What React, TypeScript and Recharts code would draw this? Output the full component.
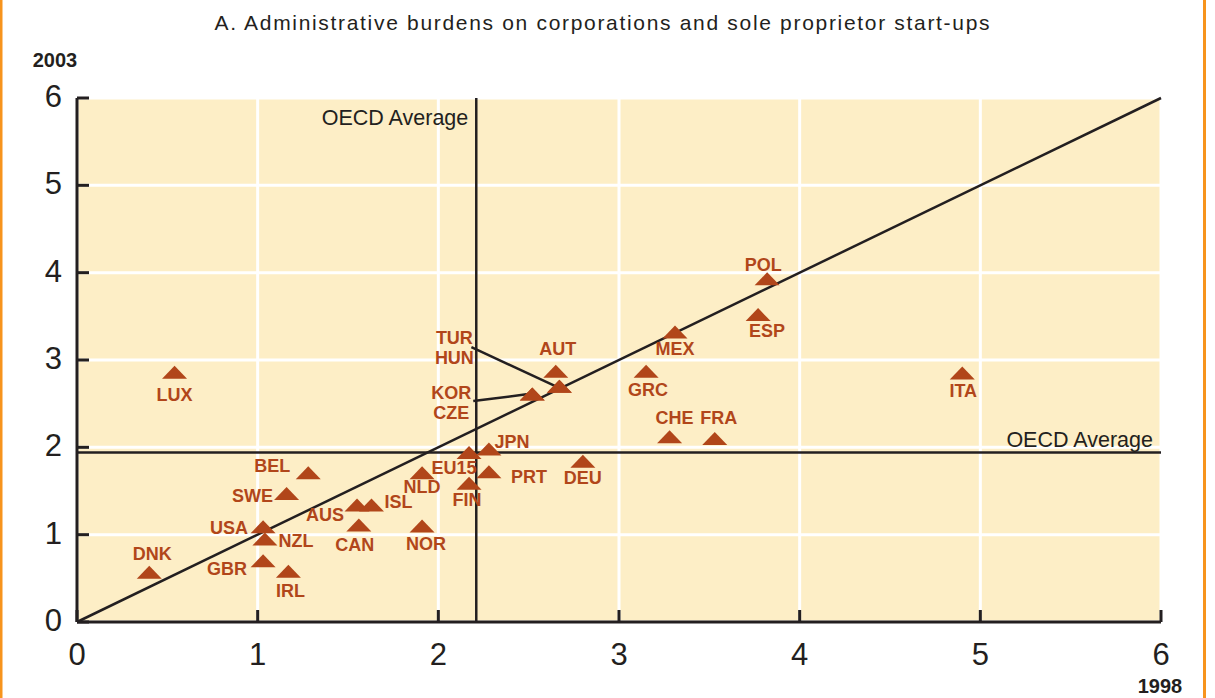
import React from 'react';
import {
  ScatterChart,
  Scatter,
  XAxis,
  YAxis,
  CartesianGrid,
  ReferenceLine,
} from 'recharts';

// ─── Data ─────────────────────────────────────────────────────────────────────

const COUNTRIES = [
  'LUX', 'DNK', 'GBR', 'IRL', 'USA', 'NZL', 'SWE', 'BEL', 'AUS', 'ISL', 'CAN', 'NOR', 'NLD',
  'EU15', 'FIN', 'JPN', 'PRT', 'DEU', 'KOR', 'CZE', 'TUR', 'HUN', 'AUT', 'MEX', 'GRC', 'CHE',
  'FRA', 'POL', 'ESP', 'ITA',
];
const SCORE_1998 = [
  0.54, 0.40, 1.03, 1.17, 1.03, 1.04, 1.16, 1.28, 1.55, 1.63, 1.56, 1.91, 1.91,
  2.17, 2.17, 2.28, 2.28, 2.80, 2.52, 2.52, 2.67, 2.67, 2.65, 3.31, 3.15, 3.28,
  3.53, 3.82, 3.77, 4.90,
];
const SCORE_2003 = [
  2.86, 0.57, 0.70, 0.58, 1.09, 0.95, 1.47, 1.71, 1.34, 1.34, 1.11, 1.10, 1.71,
  1.94, 1.59, 1.98, 1.72, 1.84, 2.61, 2.61, 2.70, 2.70, 2.87, 3.32, 2.87, 2.12,
  2.10, 3.93, 3.52, 2.85,
];
const OECD_AVG_1998 = 2.21;
const OECD_AVG_2003 = 1.94;
const AXIS_TICKS = [0, 1, 2, 3, 4, 5, 6];

const TITLE = 'A. Administrative burdens on corporations and sole proprietor start-ups';

// label placement (px offset of label centre from the marker)
const LABEL_OFFSETS: Record<string, [number, number]> = {
  LUX: [0, 22], DNK: [3, -19], GBR: [-36, 8], IRL: [2, 19], USA: [-34, 1], NZL: [31, 1],
  SWE: [-34, 2], BEL: [-36, -7], AUS: [-32, 10], ISL: [27, -3], CAN: [-4, 19], NOR: [4, 18],
  NLD: [0, 14], EU15: [-15, 15], FIN: [-2, 16], JPN: [23, -8], PRT: [40, 5], DEU: [0, 16],
  AUT: [2, -23], MEX: [0, 16], GRC: [2, 18], CHE: [5, -19], FRA: [4, -21], POL: [-4, -14],
  ESP: [9, 16], ITA: [1, 17],
};

// grouped call-out labels with leader lines
const CALLOUTS: Record<string, { lines: string[]; dx: number; dy: number; lead: [number, number] }> = {
  TUR: { lines: ['TUR', 'HUN'], dx: -105, dy: -49, lead: [-88, -39] },
  KOR: { lines: ['KOR', 'CZE'], dx: -81, dy: -2, lead: [-59, 7] },
};

const data = COUNTRIES.map((code, i) => ({ code, x: SCORE_1998[i], y: SCORE_2003[i] }));

// ─── Styles ───────────────────────────────────────────────────────────────────

const DARK = '#231f20';
const MARK = '#b1461a';
const BG = '#fdeec6';
const FONT = '"Liberation Sans", Arial, Helvetica, sans-serif';

const Marker = (props: any) => {
  const { cx, cy, payload } = props;
  if (cx == null || cy == null) return null;
  const code: string = payload.code;
  const off = LABEL_OFFSETS[code];
  const call = CALLOUTS[code];
  const labelStyle = { fontFamily: FONT, fontWeight: 700, fontSize: 18, fill: MARK } as const;
  return (
    <g>
      {call && (
        <line
          x1={cx - 4}
          y1={cy}
          x2={cx + call.lead[0]}
          y2={cy + call.lead[1]}
          stroke={DARK}
          strokeWidth={2.5}
        />
      )}
      <path
        d={`M${cx - 12.5},${cy + 6.5} L${cx + 12.5},${cy + 6.5} L${cx},${cy - 6.5} Z`}
        fill={MARK}
      />
      {off && (
        <text x={cx + off[0]} y={cy + off[1] + 6.5} textAnchor="middle" {...labelStyle}>
          {code}
        </text>
      )}
      {call &&
        call.lines.map((t, i) => (
          <text
            key={t}
            x={cx + call.dx}
            y={cy + call.dy + i * 20 + 6.5}
            textAnchor="middle"
            {...labelStyle}
          >
            {t}
          </text>
        ))}
    </g>
  );
};

const XTick = ({ x, y, payload }: any) => (
  <g>
    <line x1={x} x2={x} y1={y} y2={y - 12} stroke={DARK} strokeWidth={3} />
    <text x={x} y={y + 43} textAnchor="middle" fontFamily={FONT} fontSize={31} fill={DARK}>
      {payload.value}
    </text>
  </g>
);

const YTick = ({ x, y, payload }: any) => (
  <g>
    <line x1={x} x2={x + 12} y1={y} y2={y} stroke={DARK} strokeWidth={3} />
    <text x={x - 15} y={y + 9} textAnchor="end" fontFamily={FONT} fontSize={31} fill={DARK}>
      {payload.value}
    </text>
  </g>
);

const avgText = { fontFamily: FONT, fontSize: 21.5, fill: DARK } as const;

export default function App() {
  return (
    <div style={{ position: 'relative', width: 1215, height: 698, background: '#fff' }}>
      <style>{'body{margin:0}'}</style>
      <ScatterChart width={1215} height={698} margin={{ top: 98, right: 54, bottom: 0, left: 0 }}>
        <CartesianGrid stroke="#ffffff" strokeWidth={3} fill={BG} fillOpacity={1} />
        <XAxis
          type="number"
          dataKey="x"
          domain={[0, 6]}
          ticks={AXIS_TICKS}
          interval={0}
          height={76}
          tickSize={0}
          tickMargin={0}
          tickLine={false}
          tick={<XTick />}
          axisLine={{ stroke: DARK, strokeWidth: 3 }}
        />
        <XAxis
          xAxisId="top"
          orientation="top"
          type="number"
          domain={[0, 6]}
          height={0}
          tick={false}
          tickLine={false}
          axisLine={{ stroke: DARK, strokeWidth: 3 }}
        />
        <YAxis
          type="number"
          dataKey="y"
          domain={[0, 6]}
          ticks={AXIS_TICKS}
          interval={0}
          width={77}
          tickSize={0}
          tickMargin={0}
          tickLine={false}
          tick={<YTick />}
          axisLine={{ stroke: DARK, strokeWidth: 3 }}
        />
        <YAxis
          yAxisId="right"
          orientation="right"
          type="number"
          domain={[0, 6]}
          width={0}
          tick={false}
          tickLine={false}
          axisLine={{ stroke: DARK, strokeWidth: 3 }}
        />
        <ReferenceLine
          segment={[{ x: 0, y: 0 }, { x: 6, y: 6 }]}
          stroke={DARK}
          strokeWidth={2.5}
        />
        <ReferenceLine
          x={OECD_AVG_1998}
          stroke={DARK}
          strokeWidth={2.5}
          label={(p: any) => (
            <text x={p.viewBox.x - 8} y={p.viewBox.y + 27} textAnchor="end" {...avgText}>
              OECD Average
            </text>
          )}
        />
        <ReferenceLine
          y={OECD_AVG_2003}
          stroke={DARK}
          strokeWidth={2.5}
          label={(p: any) => (
            <text
              x={p.viewBox.x + p.viewBox.width - 8}
              y={p.viewBox.y - 6}
              textAnchor="end"
              {...avgText}
            >
              OECD Average
            </text>
          )}
        />
        <Scatter data={data} shape={(p: any) => <Marker {...p} />} isAnimationActive={false} />
      </ScatterChart>
      <svg
        width={1215}
        height={698}
        style={{ position: 'absolute', left: 0, top: 0, pointerEvents: 'none' }}
      >
        <text
          x={602}
          y={30}
          textAnchor="middle"
          fontFamily={FONT}
          fontSize={21}
          fill={DARK}
          textLength={775}
          lengthAdjust="spacing"
        >
          {TITLE}
        </text>
        <text x={55} y={67} textAnchor="middle" fontFamily={FONT} fontSize={20} fontWeight={700} fill={DARK}>
          2003
        </text>
        <text x={1160} y={693} textAnchor="middle" fontFamily={FONT} fontSize={20} fontWeight={700} fill={DARK}>
          1998
        </text>
        <rect x={0} y={0} width={2.5} height={698} fill="#f7941d" />
        <rect x={1203} y={0} width={3} height={698} fill="#f7941d" />
      </svg>
    </div>
  );
}
